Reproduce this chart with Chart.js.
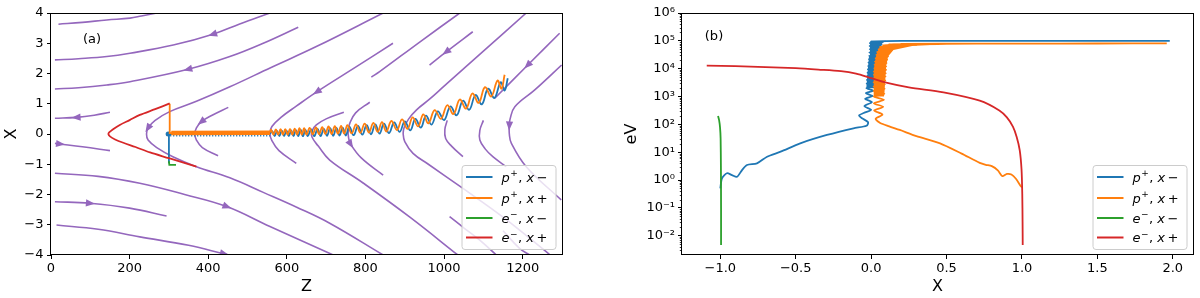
<!DOCTYPE html>
<html>
<head>
<meta charset="utf-8">
<script src="https://cdn.jsdelivr.net/npm/chart.js@4.4.1/dist/chart.umd.min.js"></script>
<style>
  html, body { margin: 0; padding: 0; background: #fff; }
  #wrap { position: relative; width: 1200px; height: 298px; }
  #wrap canvas { position: absolute; top: 0; }
</style>
</head>
<body>
<div id="wrap">
  <canvas id="panelA" width="600" height="298" style="left:0"></canvas>
  <canvas id="panelB" width="600" height="298" style="left:600px"></canvas>
</div>
<script>
const PURPLE = '#9467bd';
const C0 = '#1f77b4', C1 = '#ff7f0e', C2 = '#2ca02c', C3 = '#d62728';
const FONT = 'DejaVu Sans';

Chart.defaults.font.family = FONT;
Chart.defaults.color = '#000';

// ---- panel (a): field lines, [Z, X], in flow order ----
const fieldL1 = [[269, 4.0], [230, 3.9], [201, 3.83], [142, 3.77], [80, 3.69], [19, 3.63]];
const fieldL2 = [[557, 4.0], [480, 3.64], [412, 3.30], [311, 2.94], [201, 2.67], [142, 2.56], [70, 2.49], [10, 2.45]];
const fieldL3 = [[629, 3.53], [540, 3.0], [455, 2.56], [349, 2.14], [201, 1.73], [142, 1.62], [70, 1.53], [10, 1.49]];
const fieldL4 = [[150, 0.72], [110, 0.62], [65, 0.55], [10, 0.52]];
const fieldL5 = [[10, -0.31], [23, -0.33], [80, -0.42], [150, -0.55]];
const fieldL6 = [[10, -1.30], [120, -1.40], [226, -1.63], [340, -2.0], [447, -2.40], [557, -3.06], [718, -4.0]];
const fieldL7 = [[10, -2.24], [99, -2.29], [200, -2.45], [294, -2.71]];
const fieldL8 = [[14, -3.01], [120, -3.15], [226, -3.40], [350, -3.68], [440, -3.96], [452, -4.0]];
const fieldH245 = [[845, 4.0], [675, 2.89], [560, 2.2], [455, 1.56], [370, 1.08], [302, 0.74], [265, 0.45], [247, 0.2],
  [243, 0.0], [247, -0.2], [269, -0.45], [310, -0.75], [370, -1.08], [455, -1.45], [540, -1.93], [625, -2.42], [709, -2.95], [845, -4.0]];
const fieldH366 = [[451, 0.88], [410, 0.62], [383, 0.41], [370, 0.2], [366, 0.0], [370, -0.2], [385, -0.45], [425, -0.72]];
const fieldH557 = [[870, 3.0], [780, 2.25], [677, 1.40], [624, 0.92], [585, 0.55], [562, 0.25], [557, 0.02], [562, -0.22], [580, -0.55], [624, -0.97]];
const fieldH663 = [[745, 0.72], [700, 0.5], [675, 0.3], [664, 0.1], [664, -0.1], [680, -0.4], [709, -0.86], [794, -1.62], [913, -2.75], [1035, -4.0]];
const fieldH760 = [[811, 1.05], [775, 0.7], [760, 0.35], [756, 0.1], [757, -0.12], [762, -0.33], [790, -0.8], [845, -1.36]];
const fieldS1 = [[1073, 3.38], [1006, 2.72], [963, 2.28]];
const fieldS2 = [[1040, 4.0], [938, 3.04], [836, 2.06], [815, 1.88]];
const fieldH895 = [[1209, 4.0], [1100, 2.74], [1000, 1.58], [963, 1.15], [930, 0.8], [910, 0.5], [898, 0.2], [896, 0.0],
  [900, -0.25], [921, -0.64], [960, -1.0], [1048, -1.8], [1150, -2.75], [1270, -4.0]];
const fieldS4 = [[1294, 3.33], [1213, 2.28], [1129, 1.18]];
const fieldH1167 = [[1299, 2.28], [1230, 1.45], [1180, 0.9], [1168, 0.5], [1166, 0.28], [1166, 0.0], [1171, -0.3], [1209, -1.08], [1298, -2.18]];
const fieldH1090 = [[1100, 0.45], [1091, 0.12], [1091, -0.2], [1105, -0.5], [1124, -0.75], [1158, -1.08]];
const fieldH1000 = [[1008, 0.45], [1002, 0.15], [1004, -0.15], [1019, -0.4], [1048, -0.75]];
const fieldS5 = [[1014, -2.73], [1050, -3.1], [1090, -3.5], [1133, -4.0]];
const fieldS6 = [[1150, -3.2], [1192, -3.78], [1218, -4.0]];

const fieldLines = [fieldL1, fieldL2, fieldL3, fieldL4, fieldL5, fieldL6, fieldL7, fieldL8, fieldH245, fieldH366,
  fieldH557, fieldH663, fieldH760, fieldS1, fieldS2, fieldH895, fieldS4, fieldH1167, fieldH1090, fieldH1000, fieldS5, fieldS6];
// point index carrying an arrow head on each field line (-1: none)
const fieldArrowAt = [-1, 2, 3, 2, 1, 4, 1, 4, 7, 2, 2, -1, 5, 1, -1, -1, 1, 4, -1, -1, -1, -1];

// ---- panel (a): trajectories, [Z, X] ----
const protonMinusLeadA = [[300, -0.97], [300, 0.0], [557, 0.0]];
const protonMinusBandA = [[303, -0.03], [557, -0.03]];
const protonMinusStartA = [[298, 0.0]];
const protonMinusA = [[557, 0.0], [563, 0.09], [569, -0.07], [575, 0.10], [581, -0.07], [587, 0.11], [593, -0.07], [599, 0.11],
  [605, -0.07], [611, 0.12], [617, -0.07], [623, 0.13], [629, -0.07], [635, 0.14], [641, -0.07], [647, 0.14], [653, -0.07],
  [662, 0.15], [670, -0.07], [678, 0.17], [686, -0.07], [694, 0.17], [702, -0.06], [710, 0.19], [718, -0.06], [726, 0.20],
  [734, -0.05], [742, 0.21], [750, -0.05], [759, 0.24], [770, -0.04], [781, 0.27], [792, -0.02], [803, 0.29], [814, -0.01],
  [825, 0.32], [836, 0.01], [847, 0.34], [860, 0.03], [873, 0.38], [887, 0.07], [900, 0.42], [914, 0.12], [927, 0.50],
  [941, 0.21], [954, 0.61], [968, 0.31], [984, 0.75], [1000, 0.46], [1016, 0.91], [1032, 0.62], [1048, 1.10], [1064, 0.80],
  [1080, 1.29], [1096, 0.98], [1112, 1.50], [1128, 1.19], [1144, 1.71], [1154, 1.44], [1162, 1.84]];
const protonPlusLeadA = [[302, 1.0], [302, 0.03], [557, 0.05]];
const protonPlusBandA = [[306, 0.03], [557, 0.04]];
const protonPlusA = [[557, 0.05], [560, 0.14], [566, -0.02], [572, 0.15], [578, -0.02], [584, 0.16], [590, -0.02], [596, 0.16],
  [602, -0.02], [608, 0.17], [614, -0.02], [620, 0.18], [626, -0.02], [632, 0.19], [638, -0.02], [644, 0.19], [650, -0.02],
  [658, 0.20], [666, -0.01], [674, 0.22], [682, -0.01], [690, 0.23], [698, 0.0], [706, 0.25], [714, 0.0], [722, 0.26],
  [730, 0.01], [738, 0.27], [746, 0.01], [754, 0.29], [765, 0.02], [776, 0.32], [787, 0.04], [798, 0.34], [809, 0.05],
  [820, 0.37], [831, 0.07], [842, 0.39], [853, 0.08], [866, 0.43], [880, 0.13], [893, 0.48], [907, 0.17], [920, 0.55],
  [934, 0.25], [947, 0.65], [960, 0.35], [976, 0.79], [992, 0.50], [1008, 0.95], [1024, 0.66], [1040, 1.14], [1056, 0.84],
  [1072, 1.34], [1088, 1.03], [1104, 1.55], [1120, 1.24], [1136, 1.77], [1146, 1.50], [1154, 1.96]];
const electronMinusA = [[300, -0.9], [301, -1.02], [318, -1.02]];
const electronPlusA = [[302, 1.01], [265, 0.82], [226, 0.63], [200, 0.46], [175, 0.3], [158, 0.16], [148, 0.05], [146, 0.0],
  [150, -0.08], [163, -0.18], [184, -0.29], [215, -0.43], [252, -0.61], [300, -0.8], [370, -1.08]];

// ---- panel (b): [X, log10(eV)] ----
const protonMinusB = [[-1.0, -0.30], [-0.989, 0.065], [-0.956, 0.245], [-0.923, 0.18], [-0.889, 0.12], [-0.856, 0.36],
  [-0.823, 0.54], [-0.757, 0.60], [-0.69, 0.84], [-0.60, 1.02], [-0.47, 1.32], [-0.293, 1.62], [-0.117, 1.86], [-0.03, 1.95],
  [-0.02, 2.08], [-0.06, 2.22], [-0.08, 2.32], [-0.04, 2.43], [0.0, 2.52], [-0.045, 2.66], [0.005, 2.8], [-0.04, 2.92],
  [0.01, 3.02], [-0.035, 3.12], [0.015, 3.21], [-0.032, 3.3], [0.02, 3.38], [-0.03, 3.46], [0.025, 3.53], [-0.028, 3.6],
  [0.03, 3.67], [-0.026, 3.74], [0.035, 3.8], [-0.024, 3.86], [0.04, 3.92], [-0.022, 3.98], [0.045, 4.04], [-0.02, 4.1],
  [0.05, 4.16], [-0.018, 4.22], [0.055, 4.28], [-0.016, 4.34], [0.058, 4.4], [-0.014, 4.46], [0.06, 4.52], [-0.012, 4.58],
  [0.063, 4.64], [-0.01, 4.7], [0.066, 4.76], [-0.01, 4.82], [0.07, 4.87], [-0.008, 4.92], [0.08, 4.96], [0.0, 4.97],
  [0.1, 4.99], [0.3, 5.0], [0.6, 5.0], [1.0, 5.0], [1.5, 5.0], [1.98, 5.0]];
const protonMinusBandB = [[-0.032, 3.3], [-0.022, 3.98], [-0.014, 4.46], [-0.008, 4.92], [0.0, 5.0], [0.1, 5.0], [0.08, 4.96],
  [0.07, 4.87], [0.06, 4.52], [0.045, 4.04], [0.03, 3.67], [0.02, 3.3], [-0.032, 3.3]];
const protonPlusB = [[1.0, -0.26], [0.99, -0.2], [0.96, 0.05], [0.93, 0.2], [0.9, 0.22], [0.87, 0.14], [0.84, 0.35], [0.8, 0.5],
  [0.76, 0.55], [0.72, 0.62], [0.6, 0.95], [0.457, 1.32], [0.3, 1.58], [0.19, 1.8], [0.12, 1.93], [0.06, 2.05], [0.03, 2.2],
  [0.075, 2.35], [0.02, 2.5], [0.08, 2.63], [0.018, 2.76], [0.085, 2.88], [0.017, 3.0], [0.088, 3.1], [0.016, 3.2],
  [0.09, 3.28], [0.016, 3.36], [0.092, 3.44], [0.016, 3.51], [0.094, 3.58], [0.016, 3.65], [0.096, 3.72], [0.017, 3.78],
  [0.098, 3.84], [0.018, 3.9], [0.1, 3.96], [0.02, 4.02], [0.1, 4.08], [0.022, 4.14], [0.102, 4.2], [0.025, 4.26],
  [0.106, 4.32], [0.03, 4.38], [0.112, 4.44], [0.035, 4.5], [0.12, 4.55], [0.04, 4.6], [0.135, 4.65], [0.05, 4.7],
  [0.16, 4.74], [0.06, 4.78], [0.21, 4.81], [0.08, 4.84], [0.3, 4.86], [0.12, 4.87], [0.45, 4.885], [0.2, 4.89],
  [0.7, 4.9], [1.0, 4.9], [1.5, 4.905], [1.96, 4.91]];
const protonPlusBandB = [[0.017, 3.0], [0.016, 3.6], [0.018, 3.9], [0.022, 4.14], [0.03, 4.38], [0.04, 4.6], [0.06, 4.78],
  [0.09, 4.86], [0.15, 4.895], [0.4, 4.905], [0.5, 4.88], [0.28, 4.82], [0.148, 4.67], [0.112, 4.44], [0.1, 4.1],
  [0.095, 3.7], [0.088, 3.1], [0.085, 3.0], [0.017, 3.0]];
const electronMinusB = [[-1.015, 2.30], [-1.008, 2.15], [-1.002, 1.9], [-0.998, 1.5], [-0.996, 0.5], [-0.995, -1.0], [-0.995, -2.33]];
const electronPlusB = [[-1.09, 4.11], [-0.9, 4.09], [-0.7, 4.06], [-0.5, 4.02], [-0.35, 3.97], [-0.2, 3.91], [-0.1, 3.82],
  [0.0, 3.66], [0.1, 3.5], [0.25, 3.33], [0.48, 3.15], [0.72, 2.85], [0.85, 2.5], [0.9, 2.25], [0.94, 1.92], [0.965, 1.55],
  [0.985, 1.08], [0.997, 0.4], [1.002, -0.5], [1.004, -1.5], [1.005, -2.33]];

const legendEntries = [
  { color: C0, base: 'p', sup: '+', side: '−' },
  { color: C1, base: 'p', sup: '+', side: '+' },
  { color: C2, base: 'e', sup: '−', side: '−' },
  { color: C3, base: 'e', sup: '−', side: '+' },
];

const xy = pairs => pairs.map(p => ({ x: p[0], y: p[1] }));
const xyLog = pairs => pairs.map(p => ({ x: p[0], y: Math.pow(10, p[1]) }));
const minus = s => String(s).replace('-', '−');
const SUP = { '-': '⁻', '0': '⁰', '1': '¹', '2': '²', '3': '³', '4': '⁴', '5': '⁵', '6': '⁶', '7': '⁷', '8': '⁸', '9': '⁹' };

function lineSet(data, color, width, extra) {
  return Object.assign({
    data, showLine: true, borderColor: color, backgroundColor: color,
    borderWidth: width, pointRadius: 0, pointHoverRadius: 0, fill: false, tension: 0.4
  }, extra || {});
}

function tickFont() { return { family: FONT, size: 13 }; }
function gridOpts() {
  return { drawOnChartArea: false, drawTicks: true, tickLength: 4, tickWidth: 1, tickColor: '#000', color: '#000' };
}

// frame, panel tag, arrow heads, minor log ticks and legend
function decorPlugin(cfg) {
  return {
    id: 'decor',
    afterDatasetsDraw(chart) {
      const { ctx, chartArea: a, scales } = chart;
      ctx.save();
      if (cfg.arrows) {
        ctx.beginPath();
        ctx.rect(a.left, a.top, a.right - a.left, a.bottom - a.top);
        ctx.clip();
        ctx.fillStyle = PURPLE;
        cfg.arrows.forEach(([line, i]) => {
          const p = line[i], q = line[i - 1] || p, r = line[i + 1] || p;
          const px = scales.x.getPixelForValue(p[0]), py = scales.y.getPixelForValue(p[1]);
          const ang = Math.atan2(scales.y.getPixelForValue(r[1]) - scales.y.getPixelForValue(q[1]),
            scales.x.getPixelForValue(r[0]) - scales.x.getPixelForValue(q[0]));
          ctx.save();
          ctx.translate(px, py);
          ctx.rotate(ang);
          ctx.beginPath();
          ctx.moveTo(5, 0);
          ctx.lineTo(-4, 3.6);
          ctx.lineTo(-4, -3.6);
          ctx.closePath();
          ctx.fill();
          ctx.restore();
        });
      }
      ctx.restore();
    },
    afterDraw(chart) {
      const { ctx, chartArea: a, scales } = chart;
      ctx.save();
      // minor ticks on log axis
      if (cfg.minorLog) {
        ctx.strokeStyle = '#000';
        ctx.lineWidth = 0.8;
        for (let e = -3; e <= 5; e++) {
          for (let m = 2; m <= 9; m++) {
            const v = m * Math.pow(10, e);
            if (v < scales.y.min || v > scales.y.max) continue;
            const y = Math.round(scales.y.getPixelForValue(v)) + 0.5;
            ctx.beginPath();
            ctx.moveTo(a.left, y);
            ctx.lineTo(a.left - 2.2, y);
            ctx.stroke();
          }
        }
      }
      // frame
      ctx.strokeStyle = '#000';
      ctx.lineWidth = 1;
      ctx.strokeRect(Math.round(a.left) - 0.5, Math.round(a.top) + 0.5, Math.round(a.right - a.left) + 1, Math.round(a.bottom - a.top) - 1);
      // panel tag
      ctx.fillStyle = '#000';
      ctx.font = '13px "' + FONT + '"';
      ctx.textAlign = 'center';
      ctx.textBaseline = 'middle';
      ctx.fillText(cfg.tag, a.left + cfg.tagDx, a.top + cfg.tagDy);
      // legend
      const w = 94, h = 84;
      const bx = a.right - 6.5 - w, by = a.bottom - 6 - h;
      ctx.beginPath();
      ctx.roundRect(bx + 0.5, by + 0.5, w, h, 3);
      ctx.fillStyle = 'rgba(255,255,255,0.8)';
      ctx.fill();
      ctx.strokeStyle = '#cccccc';
      ctx.lineWidth = 1;
      ctx.stroke();
      const rows = [12, 33, 53, 72.5];
      legendEntries.forEach((en, i) => {
        const y = by + rows[i];
        ctx.strokeStyle = en.color;
        ctx.lineWidth = 2;
        ctx.beginPath();
        ctx.moveTo(bx + 4.5, y);
        ctx.lineTo(bx + 31, y);
        ctx.stroke();
        ctx.fillStyle = '#000';
        ctx.textAlign = 'left';
        ctx.textBaseline = 'alphabetic';
        let x = bx + 40;
        const base = y + 4.5;
        ctx.font = 'italic 13px "' + FONT + '"';
        ctx.fillText(en.base, x, base); x += ctx.measureText(en.base).width + 0.5;
        ctx.font = '9px "' + FONT + '"';
        ctx.fillText(en.sup, x, base - 5.5); x += ctx.measureText(en.sup).width + 0.5;
        ctx.font = '13px "' + FONT + '"';
        ctx.fillText(',', x, base); x += ctx.measureText(', ').width;
        ctx.font = 'italic 13px "' + FONT + '"';
        ctx.fillText('x', x, base); x += ctx.measureText('x').width + 2.5;
        ctx.font = '13px "' + FONT + '"';
        ctx.fillText(en.side, x, base);
      });
      ctx.restore();
    }
  };
}

// ---------- panel (a) ----------
const datasetsA = [
  lineSet(xy(electronPlusA), C3, 1.8, { tension: 0.3 }),
  lineSet(xy(electronMinusA), C2, 1.8, { tension: 0 }),
  lineSet(xy(protonPlusBandA), C1, 4.5, { tension: 0 }),
  lineSet(xy(protonPlusA), C1, 1.8),
  lineSet(xy(protonPlusLeadA), C1, 1.8, { tension: 0 }),
  lineSet(xy(protonMinusStartA), C0, 0, { showLine: false, pointRadius: 2.5, pointBorderWidth: 0 }),
  lineSet(xy(protonMinusBandA), C0, 3, { tension: 0, borderDash: [1.2, 1.8] }),
  lineSet(xy(protonMinusA), C0, 1.8),
  lineSet(xy(protonMinusLeadA), C0, 1.8, { tension: 0 }),
].concat(fieldLines.map(l => lineSet(xy(l), PURPLE, 1.6, { tension: 0.4 })));

const arrowsA = fieldLines.map((l, k) => [l, fieldArrowAt[k]]).filter(a => a[1] >= 0);

new Chart(document.getElementById('panelA'), {
  type: 'scatter',
  data: { datasets: datasetsA },
  options: {
    responsive: false,
    animation: false,
    devicePixelRatio: 1,
    layout: { padding: { left: 0, top: 13, right: 38, bottom: 0 } },
    plugins: { legend: { display: false }, tooltip: { enabled: false } },
    scales: {
      x: {
        type: 'linear', min: 0, max: 1300,
        ticks: { stepSize: 200, includeBounds: false, autoSkip: false, maxRotation: 0, padding: 2, color: '#000', font: tickFont(),
          callback: v => String(v) },
        grid: gridOpts(),
        border: { display: false },
        title: { display: true, text: 'Z', color: '#000', font: { family: FONT, size: 16 }, padding: { top: 0, bottom: 2 } },
        afterFit: s => { s.height = 43; }
      },
      y: {
        type: 'linear', min: -4, max: 4,
        ticks: { stepSize: 1, autoSkip: false, padding: 3.5, color: '#000', font: tickFont(), callback: v => minus(v) },
        grid: gridOpts(),
        border: { display: false },
        title: { display: true, text: 'X', color: '#000', font: { family: FONT, size: 16 }, padding: { top: 2.4, bottom: 0 } },
        afterFit: s => { s.width = 51; }
      }
    }
  },
  plugins: [decorPlugin({ arrows: arrowsA, tag: '(a)', tagDx: 41, tagDy: 27 })]
});

// ---------- panel (b) ----------
const datasetsB = [
  lineSet(xyLog(electronPlusB), C3, 1.8, { tension: 0.3 }),
  lineSet(xyLog(electronMinusB), C2, 1.8, { tension: 0.2 }),
  lineSet(xyLog(protonPlusB), C1, 1.8, { tension: 0.25 }),
  lineSet(xyLog(protonPlusBandB), C1, 0, { tension: 0, fill: 'shape', backgroundColor: C1 }),
  lineSet(xyLog(protonMinusB), C0, 1.8, { tension: 0.25 }),
  lineSet(xyLog(protonMinusBandB), C0, 0, { tension: 0, fill: 'shape', backgroundColor: C0 }),
];

new Chart(document.getElementById('panelB'), {
  type: 'scatter',
  data: { datasets: datasetsB },
  options: {
    responsive: false,
    animation: false,
    devicePixelRatio: 1,
    layout: { padding: { left: 0, top: 13, right: 7, bottom: 0 } },
    plugins: { legend: { display: false }, tooltip: { enabled: false } },
    scales: {
      x: {
        type: 'linear', min: -1.254, max: 2.134,
        ticks: { stepSize: 0.5, includeBounds: false, autoSkip: false, maxRotation: 0, padding: 2, color: '#000', font: tickFont(),
          callback: v => minus(Number(v).toFixed(1)) },
        grid: gridOpts(),
        border: { display: false },
        title: { display: true, text: 'X', color: '#000', font: { family: FONT, size: 16 }, padding: { top: 0, bottom: 2 } },
        afterFit: s => { s.height = 43; }
      },
      y: {
        type: 'logarithmic', min: Math.pow(10, -2.69), max: 1e6,
        afterBuildTicks: s => { s.ticks = [-2, -1, 0, 1, 2, 3, 4, 5, 6].map(e => ({ value: Math.pow(10, e), major: true })); },
        ticks: { autoSkip: false, padding: 3, color: '#000', font: tickFont(),
          callback: v => '10' + String(Math.round(Math.log10(v))).split('').map(c => SUP[c]).join('') },
        grid: gridOpts(),
        border: { display: false },
        title: { display: true, text: 'eV', color: '#000', font: { family: FONT, size: 16 }, padding: { top: 22, bottom: 0 } },
        afterFit: s => { s.width = 82; }
      }
    }
  },
  plugins: [decorPlugin({ minorLog: true, tag: '(b)', tagDx: 32, tagDy: 24 })]
});
</script>
</body>
</html>
